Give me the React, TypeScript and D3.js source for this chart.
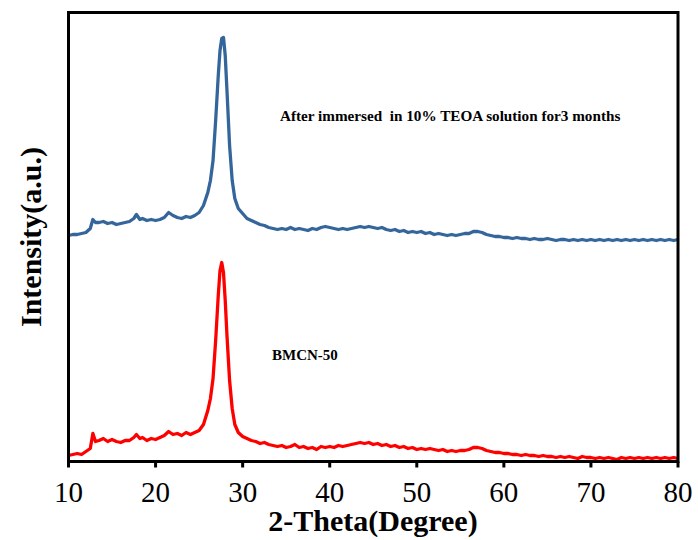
import React from "react";
import * as d3 from "d3";

const twoTheta = [
  10, 10.5, 11, 11.5, 12, 12.5, 12.8, 13.1, 13.5, 14, 14.5, 15, 15.5, 16, 16.5, 17, 17.5, 17.8, 18.2, 18.5,
  19, 19.5, 20, 20.5, 21, 21.5, 22, 22.5, 23, 23.5, 24, 24.5, 25, 25.5, 26, 26.3, 26.6, 26.9, 27.2, 27.4,
  27.6, 27.8, 28.0, 28.2, 28.5, 28.8, 29.1, 29.5, 30, 30.5, 31, 31.5, 32, 32.5, 33, 33.5, 34, 34.5, 35, 35.5,
  36, 36.5, 37, 37.5, 38, 38.5, 39, 39.5, 40, 40.5, 41, 41.5, 42, 42.5, 43, 43.5, 44, 44.5, 45, 45.5,
  46, 46.5, 47, 47.5, 48, 48.5, 49, 49.5, 50, 50.5, 51, 51.5, 52, 52.5, 53, 53.5, 54, 54.5, 55, 55.5,
  56, 56.5, 57, 57.5, 58, 58.5, 59, 59.5, 60, 60.5, 61, 61.5, 62, 62.5, 63, 63.5, 64, 64.5, 65, 65.5,
  66, 66.5, 67, 67.5, 68, 68.5, 69, 69.5, 70, 70.5, 71, 71.5, 72, 72.5, 73, 73.5, 74, 74.5, 75, 75.5,
  76, 76.5, 77, 77.5, 78, 78.5, 79, 79.5, 80,
];

// BMCN-50 (red)
const bmcnIntensity = [
  6, 7, 8, 7, 10, 13, 28, 20, 21, 23, 20, 22, 20, 19, 21, 21, 24, 27, 23, 24,
  21, 23, 22, 24, 26, 30, 27, 28, 26, 29, 27, 29, 31, 37, 51, 63, 83, 121, 166, 191,
  199, 189, 161, 126, 81, 53, 37, 29, 25, 23, 21, 20, 18, 19, 17, 16, 15, 16, 14, 15,
  17, 14, 15, 13, 14, 12, 15, 14, 15, 14, 16, 15, 16, 17, 18, 19, 18, 19, 17, 18,
  16, 17, 15, 16, 14, 15, 13, 14, 12, 13, 12, 13, 12, 11, 12, 10, 11, 10, 11, 11,
  12, 14, 14, 13, 11, 10, 9, 9, 8, 8, 7, 7, 6, 7, 6, 6, 5, 6, 5, 5,
  4, 5, 4, 5, 4, 3, 5, 4, 4, 3, 4, 3, 4, 3, 2, 4, 3, 4, 3, 4,
  3, 4, 3, 4, 3, 4, 3, 4, 3,
];

// After immersed in 10% TEOA solution for 3 months (blue)
const teoaIntensity = [
  226, 227, 227, 228, 229, 233, 242, 239, 239, 240, 238, 239, 237, 238, 239, 240, 243, 247, 242, 243,
  241, 242, 241, 242, 244, 249, 246, 244, 243, 245, 244, 246, 249, 256, 269, 281, 301, 341, 386, 411,
  423, 424, 406, 371, 316, 281, 263, 253, 248, 243, 241, 239, 237, 236, 234, 233, 232, 233, 232, 234,
  232, 233, 232, 231, 233, 232, 234, 235, 234, 233, 232, 233, 232, 233, 234, 235, 234, 235, 234, 233,
  234, 232, 231, 232, 230, 231, 229, 230, 229, 230, 228, 229, 227, 228, 227, 226, 227, 226, 227, 228,
  228, 230, 230, 229, 227, 226, 225, 225, 224, 224, 223, 224, 223, 223, 222, 223, 222, 222, 223, 222,
  221, 222, 222, 221, 222, 221, 222, 221, 222, 221, 222, 221, 222, 221, 222, 221, 222, 221, 222, 221,
  222, 221, 222, 221, 222, 221, 222, 221, 222,
];

const xTicks = [10, 20, 30, 40, 50, 60, 70, 80];
const seriesNames = ["After immersed  in 10% TEOA solution for3 months", "BMCN-50"];

const W = 698;
const H = 540;
const L = 68.5;
const R = 678;
const T = 12.5;
const B = 461.5;

export default function App() {
  const x = d3.scaleLinear().domain([10, 80]).range([L, R]);
  const y = d3.scaleLinear().domain([0, 449]).range([B, T]);
  const line = (vals: number[]) =>
    d3
      .line<number>()
      .x((_, i) => x(twoTheta[i]))
      .y((v) => y(v))(vals) as string;

  const serif = "'Liberation Serif', 'Times New Roman', serif";

  return (
    <svg
      width={W}
      height={H}
      style={{ position: "absolute", left: 0, top: 0, background: "#fff" }}
      fontFamily={serif}
    >
      <rect x={0} y={0} width={W} height={H} fill="#fff" />
      <path d={line(teoaIntensity)} fill="none" stroke="#35669b" strokeWidth={3.3} strokeLinejoin="round" />
      <path d={line(bmcnIntensity)} fill="none" stroke="#ff0000" strokeWidth={3.3} strokeLinejoin="round" />
      <rect x={L} y={T} width={R - L} height={B - T} fill="none" stroke="#000" strokeWidth={3} />
      {xTicks.map((t) => (
        <g key={t}>
          <line x1={x(t)} x2={x(t)} y1={B} y2={B + 6} stroke="#000" strokeWidth={3} />
          <text x={x(t)} y={502} textAnchor="middle" fontSize={29} fill="#000">
            {t}
          </text>
        </g>
      ))}
      <text x={373} y={531} textAnchor="middle" fontSize={30} fontWeight="bold" fill="#000">
        2-Theta(Degree)
      </text>
      <text
        transform={`translate(41,237) rotate(-90)`}
        textAnchor="middle"
        fontSize={30}
        fontWeight="bold"
        fill="#000"
      >
        Intensity(a.u.)
      </text>
      <text x={280} y={121} fontSize={15.2} fontWeight="bold" fill="#000" style={{ whiteSpace: "pre" }}>
        {seriesNames[0]}
      </text>
      <text x={272} y={360} fontSize={15} fontWeight="bold" fill="#000">
        {seriesNames[1]}
      </text>
    </svg>
  );
}
